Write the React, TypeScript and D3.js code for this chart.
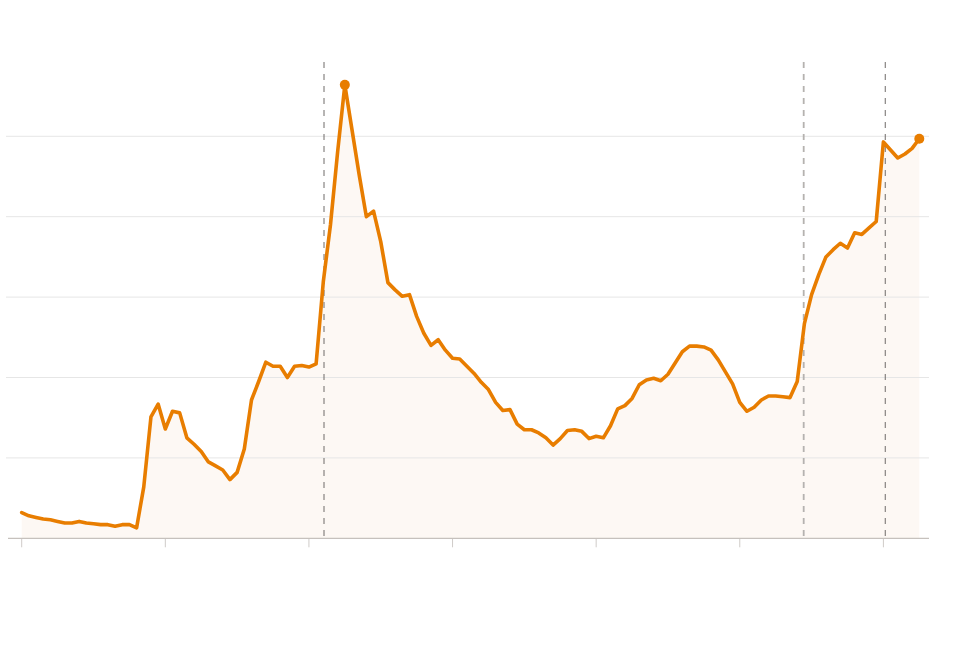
import React from "react";
import * as d3 from "d3";

// Quarterly series (index 0..125), value in grid units x10
const values: number[] = [
  3.2, 2.8, 2.6, 2.4, 2.3, 2.1, 1.9, 1.9, 2.1, 1.9,
  1.8, 1.7, 1.7, 1.5, 1.7, 1.7, 1.3, 6.4, 15.1, 16.7,
  13.6, 15.8, 15.6, 12.5, 11.7, 10.8, 9.5, 9.0, 8.5, 7.3,
  8.2, 11.1, 17.2, 19.5, 21.9, 21.4, 21.4, 20.0, 21.4, 21.5,
  21.3, 21.7, 31.9, 39.0, 48.1, 56.4, 50.8, 45.2, 40.0, 40.7,
  36.9, 31.8, 30.9, 30.1, 30.3, 27.6, 25.5, 24.0, 24.7, 23.4,
  22.4, 22.3, 21.4, 20.5, 19.4, 18.5, 16.9, 15.9, 16.0, 14.2,
  13.5, 13.5, 13.1, 12.5, 11.6, 12.4, 13.4, 13.5, 13.3, 12.4,
  12.7, 12.5, 14.0, 16.1, 16.5, 17.4, 19.1, 19.7, 19.9, 19.6,
  20.4, 21.8, 23.2, 23.9, 23.9, 23.8, 23.4, 22.2, 20.7, 19.2,
  16.9, 15.8, 16.3, 17.2, 17.7, 17.7, 17.6, 17.5, 19.5, 26.7,
  30.3, 32.8, 35.0, 35.9, 36.7, 36.1, 38.0, 37.8, 38.6, 39.4,
  49.3, 48.3, 47.3, 47.8, 48.5, 49.7,
];

const gridValues: number[] = [10, 20, 30, 40, 50];
const tickIndices: number[] = [0, 20, 40, 60, 80, 100, 120];
const eventLinesDark: number[] = [42.1, 120.26];
const eventLinesLight: number[] = [108.9];
const highlighted: number[] = [45, 125];

export default function App() {
  const W = 980;
  const H = 664;
  const x = d3.scaleLinear().domain([0, values.length - 1]).range([21.7, 919.3]);
  const y = d3.scaleLinear().domain([0, 60]).range([538.3, 55.9]);

  const line = d3
    .line<number>()
    .x((_, i) => x(i))
    .y((d) => y(d));
  const area = d3
    .area<number>()
    .x((_, i) => x(i))
    .y0(y(0))
    .y1((d) => y(d));

  const orange = "#e87d00";
  const topY = 62;

  return (
    <svg
      width={W}
      height={H}
      style={{ position: "absolute", left: 0, top: 0, display: "block", background: "#fff" }}
    >
      <path d={area(values) || ""} fill="#fdf8f4" />
      {gridValues.map((g) => (
        <line key={g} x1={6} x2={929} y1={y(g)} y2={y(g)} stroke="#e6e6e6" strokeWidth={1} />
      ))}
      {tickIndices.map((t) => (
        <line key={t} x1={x(t)} x2={x(t)} y1={y(0)} y2={y(0) + 9} stroke="#cfcbc8" strokeWidth={1} />
      ))}
      <line x1={8} x2={929} y1={y(0)} y2={y(0)} stroke="#c6c1bd" strokeWidth={1.3} />
      {eventLinesLight.map((e) => (
        <line
          key={e}
          x1={x(e)}
          x2={x(e)}
          y1={topY}
          y2={y(0)}
          stroke="#b5b2af"
          strokeWidth={1.8}
          strokeDasharray="6,6"
        />
      ))}
      {eventLinesDark.map((e) => (
        <line
          key={e}
          x1={x(e)}
          x2={x(e)}
          y1={topY}
          y2={y(0)}
          stroke="#6f6b68"
          strokeWidth={1}
          strokeDasharray="6,6"
        />
      ))}
      <path d={line(values) || ""} fill="none" stroke={orange} strokeWidth={3.6} strokeLinejoin="round" strokeLinecap="round" />
      {highlighted.map((i) => (
        <circle key={i} cx={x(i)} cy={y(values[i])} r={5} fill={orange} />
      ))}
    </svg>
  );
}
